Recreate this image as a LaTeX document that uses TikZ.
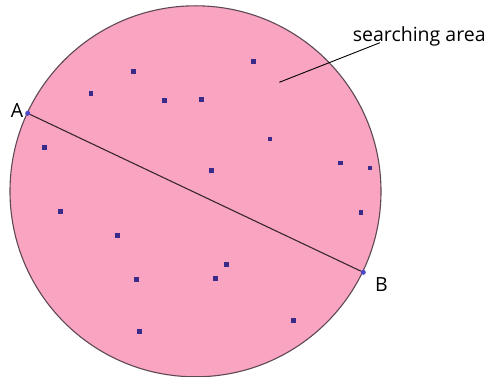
\documentclass[tikz,border=0pt]{standalone}
\usepackage{fontspec}
\setmainfont{Open Sans}
\definecolor{pinkfill}{HTML}{F9A5C2}
\definecolor{rimcol}{HTML}{5E4856}
\definecolor{dotcol}{HTML}{3A2A8A}
\definecolor{endcol}{HTML}{4A48C8}
\definecolor{linecol}{HTML}{3A2632}
\tikzset{
  dotsq/.style={rectangle, fill=dotcol, inner sep=0pt, minimum size=4.8pt},
  endpt/.style={circle, fill=endcol, inner sep=0pt, minimum size=5pt},
  lbl/.style={font=\fontsize{19.5}{22}\selectfont, inner sep=0pt, text=black},
}
\begin{document}
\begin{tikzpicture}[x=1pt,y=-1pt]
\useasboundingbox (0,0) rectangle (485,377);
\fill[white] (0,0) rectangle (485,377);
\node[circle, draw=rimcol, line width=1.1pt, fill=pinkfill, minimum size=371pt, inner sep=0pt] (disc) at (195.5,191.3) {};
% points
\foreach \x/\y [count=\i] in {133.3/71.7, 253.7/61.7, 91/93.3, 164.7/100.7, 201.3/99.3, 270/139, 44.3/147.7, 211.3/170.7, 340.7/163, 370/168, 361/212.3, 60.7/211.3, 117.7/235.3, 226.7/264.7, 136.7/279.7, 215.3/278.3, 293.7/320.3, 139.3/331.7}
  \node[dotsq] (p\i) at (\x,\y) {};
% chord
\node[endpt] (A) at (27.7,113.3) {};
\node[endpt] (B) at (363.3,272.3) {};
\draw[linecol, line width=1.1pt] (A) -- (B);
\node[lbl] (la) at (17,110.5) {A};
\node[lbl] (lb) at (381.5,284.5) {B};
% annotation
\node[lbl, anchor=base west] (sa) at (352.7,41.5) {searching area};
\coordinate (tip) at (279.3,82.3);
\coordinate (tail) at (380,42.7);
\draw[black, line width=0.9pt] (tip) -- (tail);
\end{tikzpicture}
\end{document}
